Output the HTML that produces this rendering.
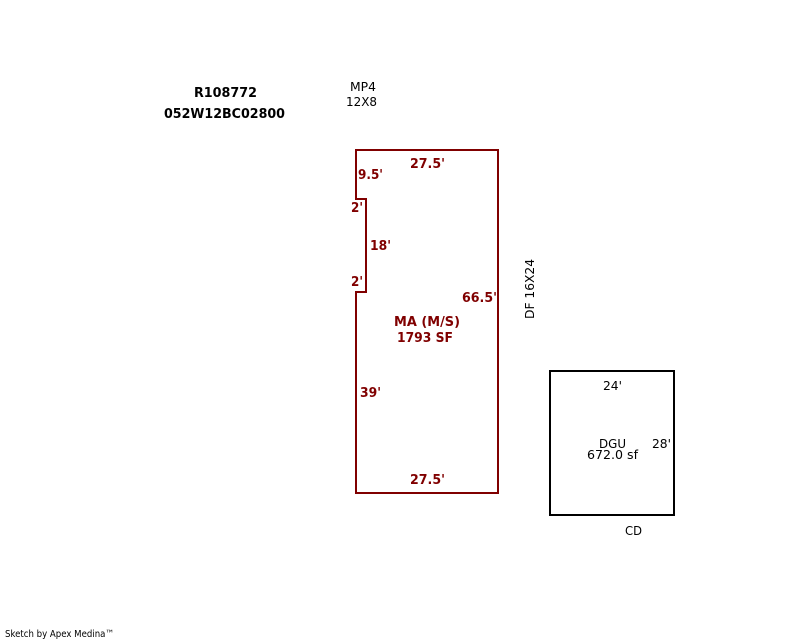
<!DOCTYPE html>
<html>
<head>
<meta charset="utf-8">
<style>
html,body{margin:0;padding:0;background:#fff;}
svg{display:block;}
text{font-family:"DejaVu Sans","Liberation Sans",sans-serif;font-size:12.5px;fill:#000;}
.b{font-weight:bold;font-size:13.5px;}
.r{fill:#800000;font-weight:bold;font-size:13px;}
</style>
</head>
<body>
<svg width="800" height="640" viewBox="0 0 800 640" xmlns="http://www.w3.org/2000/svg">
<rect width="800" height="640" fill="#fff"/>
<path d="M356 150H498V493H356V292H366V199H356Z" fill="none" stroke="#800000" stroke-width="2" shape-rendering="crispEdges"/>
<rect x="550" y="371" width="124" height="144" fill="none" stroke="#000" stroke-width="2" shape-rendering="crispEdges"/>

<text class="b" x="194" y="97" textLength="63" lengthAdjust="spacingAndGlyphs">R108772</text>
<text class="b" x="164" y="118" textLength="121" lengthAdjust="spacingAndGlyphs">052W12BC02800</text>
<text x="350" y="91" textLength="26" lengthAdjust="spacingAndGlyphs">MP4</text>
<text x="346" y="106" textLength="31" lengthAdjust="spacingAndGlyphs">12X8</text>

<text class="r" x="358" y="179" textLength="25" lengthAdjust="spacingAndGlyphs">9.5'</text>
<text class="r" x="410" y="168" textLength="35" lengthAdjust="spacingAndGlyphs">27.5'</text>
<text class="r" x="351" y="212" textLength="12" lengthAdjust="spacingAndGlyphs">2'</text>
<text class="r" x="370" y="250" textLength="21" lengthAdjust="spacingAndGlyphs">18'</text>
<text class="r" x="351" y="286" textLength="12" lengthAdjust="spacingAndGlyphs">2'</text>
<text class="r" x="462" y="302" textLength="35" lengthAdjust="spacingAndGlyphs">66.5'</text>
<text class="r" x="394" y="326" textLength="66" lengthAdjust="spacingAndGlyphs">MA (M/S)</text>
<text class="r" x="397" y="342" textLength="56" lengthAdjust="spacingAndGlyphs">1793 SF</text>
<text class="r" x="360" y="397" textLength="21" lengthAdjust="spacingAndGlyphs">39'</text>
<text class="r" x="410" y="484" textLength="35" lengthAdjust="spacingAndGlyphs">27.5'</text>

<text transform="translate(534 319) rotate(-90)" x="0" y="0" textLength="60" lengthAdjust="spacingAndGlyphs">DF 16X24</text>

<text x="603" y="390" textLength="19" lengthAdjust="spacingAndGlyphs">24'</text>
<text x="599" y="448" textLength="27" lengthAdjust="spacingAndGlyphs">DGU</text>
<text x="587" y="459" textLength="51" lengthAdjust="spacingAndGlyphs">672.0 sf</text>
<text x="652" y="448" textLength="19" lengthAdjust="spacingAndGlyphs">28'</text>
<text x="625" y="535" textLength="17" lengthAdjust="spacingAndGlyphs">CD</text>

<text x="5" y="637" style="font-size:10px" textLength="109" lengthAdjust="spacingAndGlyphs">Sketch by Apex Medina™</text>
</svg>
</body>
</html>
